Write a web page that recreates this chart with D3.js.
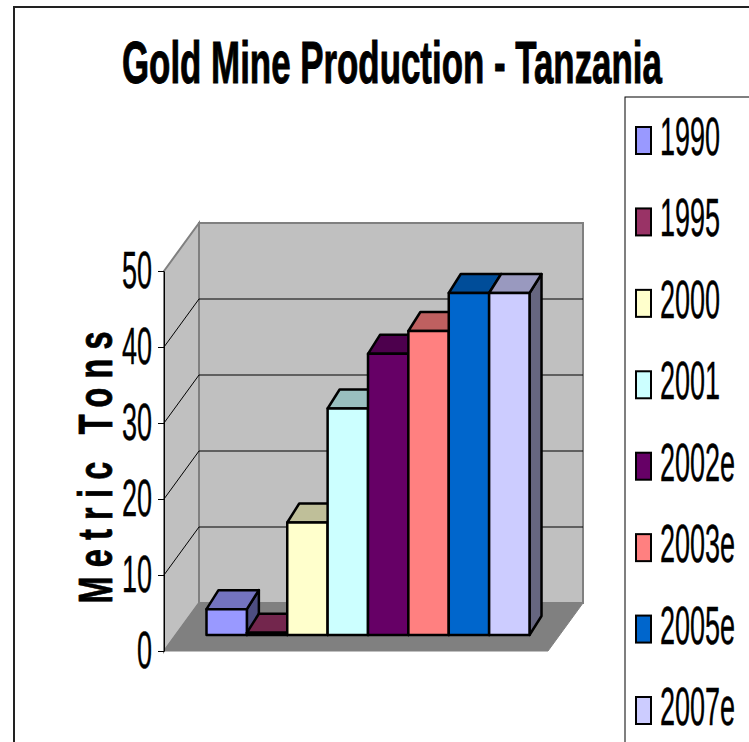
<!DOCTYPE html>
<html>
<head>
<meta charset="utf-8">
<script src="https://cdn.jsdelivr.net/npm/d3@7"></script>
<style>
  body { margin: 0; background: #fff; }
  svg { display: block; font-family: "Liberation Sans", Arial, sans-serif; }
</style>
</head>
<body>
<div id="chart"></div>
<script>
// data
const years = ["1990", "1995", "2000", "2001", "2002e", "2003e", "2005e", "2007e"];
const tons = [3.4, 0.3, 14.8, 29.8, 37, 40, 45, 45];
const colors = ["#9999FF", "#993366", "#FFFFCC", "#CCFFFF", "#660066", "#FF8080", "#0066CC", "#CCCCFF"];
const tickValues = [0, 10, 20, 30, 40, 50];

const W = 749, H = 742;

// shade helper : Excel darkens top and side faces
function shade(c, k) {
  const r = d3.rgb(c);
  return d3.rgb(r.r * k, r.g * k, r.b * k).formatHex();
}

// squeeze a text horizontally so it fits a given width
function fitWidth(sel, x, yPos, width) {
  const w = sel.node().getComputedTextLength() || width;
  sel.attr("transform", `translate(${x},${yPos}) scale(${width / w},1)`);
}

const svg = d3.select("#chart").append("svg")
  .attr("width", W)
  .attr("height", H);

// chart area frame
svg.append("rect")
  .attr("x", 14).attr("y", 7)
  .attr("width", W + 20).attr("height", H + 20)
  .attr("fill", "#fff")
  .attr("stroke", "#222")
  .attr("stroke-width", 2);

// --- scales (front plane = axis plane) ---
const y = d3.scaleLinear().domain([0, 50]).range([651, 271]);
const x = d3.scaleBand().domain(years).range([164, 548])
  .paddingInner(0).paddingOuter(0.755);

const WALL = { dx: 35, dy: -48 };   // depth of the walls
const FRONT = { dx: 12, dy: -16 };  // bar front plane
const BAR = { dx: 12, dy: -19 };    // bar depth

const [x0, x1] = x.range();
const y0 = y(0), yTop = y(50);
const line = d3.line();

// left wall
svg.append("path")
  .attr("d", line([[x0, y0], [x0, yTop], [x0 + WALL.dx, yTop + WALL.dy], [x0 + WALL.dx, y0 + WALL.dy]]) + "Z")
  .attr("fill", "#c0c0c0")
  .attr("stroke", "#808080")
  .attr("stroke-width", 2);

// back wall
svg.append("rect")
  .attr("x", x0 + WALL.dx)
  .attr("y", yTop + WALL.dy)
  .attr("width", x1 - x0)
  .attr("height", y0 - yTop)
  .attr("fill", "#c0c0c0")
  .attr("stroke", "#808080")
  .attr("stroke-width", 2);

// gridlines (back wall + left wall)
const inner = tickValues.filter(v => v > 0 && v < 50);
svg.append("g").selectAll("line.grid")
  .data(inner)
  .join("line")
  .attr("x1", x0 + WALL.dx).attr("x2", x1 + WALL.dx)
  .attr("y1", d => y(d) + WALL.dy).attr("y2", d => y(d) + WALL.dy)
  .attr("stroke", "#000").attr("stroke-width", 1);
svg.append("g").selectAll("line.diag")
  .data(inner)
  .join("line")
  .attr("x1", x0).attr("x2", x0 + WALL.dx)
  .attr("y1", d => y(d)).attr("y2", d => y(d) + WALL.dy)
  .attr("stroke", "#000").attr("stroke-width", 1);

// floor
svg.append("path")
  .attr("d", line([[x0, y0], [x1, y0], [x1 + WALL.dx, y0 + WALL.dy], [x0 + WALL.dx, y0 + WALL.dy]]) + "Z")
  .attr("fill", "#808080")
  .attr("stroke", "#808080")
  .attr("stroke-width", 1);

// --- axis ---
const TICK_SX = 0.53;
const axisG = svg.append("g")
  .attr("transform", `translate(${x0},0)`)
  .call(d3.axisLeft(y).tickValues(tickValues).tickSize(6).tickSizeOuter(0));
axisG.select(".domain").attr("stroke", "#000").attr("stroke-width", 1);
axisG.selectAll(".tick line").attr("stroke", "#000");
axisG.selectAll(".tick text")
  .attr("font-size", 51)
  .attr("font-family", "'Liberation Sans', Arial, sans-serif")
  .attr("fill", "#000")
  .attr("stroke", "#000")
  .attr("stroke-width", 0.4)
  .attr("x", -12 / TICK_SX)
  .attr("dy", "0.32em")
  .attr("transform", `scale(${TICK_SX},1)`);

// --- bars (left to right so each one covers the previous side) ---
const bars = years.map((yr, i) => {
  const bx0 = x(yr) + FRONT.dx;
  const bx1 = bx0 + x.bandwidth();
  const top = y(tons[i]) + FRONT.dy;
  const bot = y(0) + FRONT.dy;
  return { yr, color: colors[i], bx0, bx1, top, bot };
});

const barG = svg.append("g")
  .attr("stroke", "#000")
  .attr("stroke-width", 2.5)
  .attr("stroke-linejoin", "round");

bars.forEach(b => {
  const g = barG.append("g");
  g.append("path") // side
    .attr("d", line([[b.bx1, b.top], [b.bx1 + BAR.dx, b.top + BAR.dy], [b.bx1 + BAR.dx, b.bot + BAR.dy], [b.bx1, b.bot]]) + "Z")
    .attr("fill", shade(b.color, 0.5));
  g.append("path") // top
    .attr("d", line([[b.bx0, b.top], [b.bx1, b.top], [b.bx1 + BAR.dx, b.top + BAR.dy], [b.bx0 + BAR.dx, b.top + BAR.dy]]) + "Z")
    .attr("fill", shade(b.color, 0.75));
  g.append("rect") // front
    .attr("x", b.bx0)
    .attr("y", b.top)
    .attr("width", b.bx1 - b.bx0)
    .attr("height", b.bot - b.top)
    .attr("fill", b.color);
});

// --- title ---
const title = svg.append("text")
  .attr("font-size", 60)
  .attr("font-weight", "bold")
  .attr("stroke", "#000")
  .attr("stroke-width", 1)
  .text("Gold Mine Production - Tanzania");
fitWidth(title, 122, 83, 540);

// --- y axis title ---
const YT_SX = 0.66;
svg.append("text")
  .attr("transform", `translate(112,467.5) rotate(-90) scale(${YT_SX},1)`)
  .attr("text-anchor", "middle")
  .attr("font-size", 49)
  .attr("font-weight", "bold")
  .attr("stroke", "#000")
  .attr("stroke-width", 0.8)
  .attr("textLength", 272 / YT_SX)
  .attr("lengthAdjust", "spacing")
  .text("Metric Tons");

// --- legend ---
svg.append("rect")
  .attr("x", 625).attr("y", 97)
  .attr("width", 200).attr("height", 700)
  .attr("fill", "#fff")
  .attr("stroke", "#000")
  .attr("stroke-width", 1);

const LEG_SX = 0.51;
const legY = d3.scalePoint().domain(years).range([155, 725]);
const leg = svg.append("g").selectAll("g")
  .data(years)
  .join("g")
  .attr("transform", d => `translate(0,${legY(d)})`);
leg.append("rect")
  .attr("x", 636).attr("y", -28)
  .attr("width", 15).attr("height", 27)
  .attr("fill", (d, i) => colors[i])
  .attr("stroke", "#000")
  .attr("stroke-width", 2);
leg.append("text")
  .attr("transform", `translate(660,0) scale(${LEG_SX},1)`)
  .attr("font-size", 53)
  .attr("stroke", "#000")
  .attr("stroke-width", 0.4)
  .text(d => d);
</script>
</body>
</html>
